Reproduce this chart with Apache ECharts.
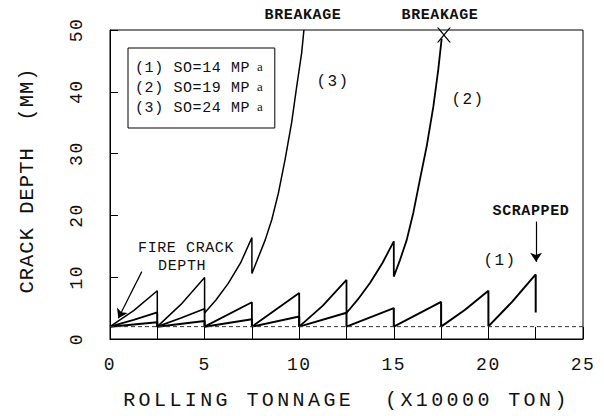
<!DOCTYPE html>
<html><head><meta charset="utf-8">
<script src="https://cdn.jsdelivr.net/npm/echarts@6/dist/echarts.min.js"></script>
<style>
html,body{margin:0;padding:0;background:#fff}
#c{width:604px;height:416px}
text[style*="20px"]{letter-spacing:3.4px}
text[style*="20.5px"]{letter-spacing:1px}
text[style*="18px"]{letter-spacing:1.5px}
text[style*="15px"]{letter-spacing:0.6px}
text[style*="16px"]{letter-spacing:1.4px}
</style></head><body><div id="c"></div><script>
// ---- data ----
const xName = 'ROLLING TONNAGE  (X10000 TON)';
const yName = 'CRACK DEPTH  (MM)';
const seriesNames = ['(1) SO=14 MPa', '(2) SO=19 MPa', '(3) SO=24 MPa'];
const xTickLabels = [0, 5, 10, 15, 20, 25];
const yTickLabels = [0, 10, 20, 30, 40, 50];
// curve (1) SO=14 MPa
const curve1 = [[0,2],[2.5,2.7],[2.5,2],[5,2.9],[5,2],[7.5,3.2],[7.5,2],[10,3.65],[10,2],
  [12.5,4.25],[12.5,2],[15,5.0],[15,2],[17.5,6.0],[17.5,2],[18.75,4.7],[20,7.8],[20,2.05],
  [21.25,6.0],[22.5,10.45],[22.5,4.3]];
// curve (2) SO=19 MPa
const curve2 = [[0,2],[1.25,3.1],[2.5,4.3],[2.5,2],[3.75,3.4],[5,4.9],[5,2],[7.5,5.95],[7.5,2],
  [10,7.45],[10,2],[11.25,5.4],[12.5,9.55],[12.5,4.2],[13.1,6.4],[13.75,9.1],[14.4,12.3],[15,15.8],
  [15,10.1],[15.33,12.8],[15.68,16.0],[16.03,20.4],[16.38,25.8],[16.74,31.2],[17.09,37.6],
  [17.35,43.6],[17.53,48.6]];
// curve (3) SO=24 MPa
const curve3 = [[0,2],[1.25,4.6],[2.5,7.8],[2.5,2],[3.75,5.6],[5,9.95],[5,4.2],[5.6,6.3],
  [6.25,9.0],[6.9,12.3],[7.5,16.4],[7.5,10.6],[7.85,13.3],[8.2,16.0],[8.55,19.3],[8.9,23.6],
  [9.25,29.0],[9.6,35.0],[9.87,40.9],[10.13,46.3],[10.25,50]];
// fire crack depth (dashed reference)
const fireCrackDepth = [[0,2],[25,2]];
// breakage point of curve (2)
const breakagePoint = [17.65, 49.2];

const FONT = "'Liberation Mono', monospace";
const chart = echarts.init(document.getElementById('c'), null, {renderer: 'svg'});

const note = (name, coord, size, bold, offset) => ({
  name, coord, symbol: 'circle', symbolSize: 0,
  label: {show: true, position: 'inside', formatter: name, color: '#111',
    fontFamily: FONT, fontSize: size, fontWeight: bold ? 'bold' : 'normal', offset: offset || [0,0]}
});

const lineSeries = (name, data, width) => ({
  name, type: 'line', data, symbol: 'none', smooth: false, clip: true,
  lineStyle: {color: '#000', width}, itemStyle: {color: '#000'},
  emphasis: {disabled: true}
});

chart.setOption({
  animation: false,
  backgroundColor: '#fff',
  grid: {left: 110, right: 21, top: 30, bottom: 77, show: true, borderColor: '#000', borderWidth: 1},
  legend: {
    data: seriesNames, orient: 'vertical', left: 128, top: 48,
    icon: 'none', itemWidth: 0, itemHeight: 14, itemGap: 4,
    padding: [12, 12, 12, 2], borderColor: '#000', borderWidth: 1,
    selectedMode: false,
    formatter: n => '{t|' + n.slice(0, -1) + '}{u|' + n.slice(-1) + '}',
    textStyle: {color: '#111', rich: {
      t: {fontFamily: FONT, fontSize: 15, lineHeight: 16, color: '#111'},
      u: {fontFamily: "'Liberation Serif', serif", fontSize: 13, lineHeight: 16, color: '#111',
          padding: [0, 0, 3, 14]}
    }}
  },
  xAxis: {
    type: 'value', min: 0, max: 25, interval: 2.5,
    name: xName, nameLocation: 'middle', nameGap: 51,
    nameTextStyle: {fontFamily: FONT, fontSize: 20, color: '#111'},
    axisLine: {lineStyle: {color: '#000', width: 1}},
    axisTick: {inside: true, length: 12, lineStyle: {color: '#000'}},
    axisLabel: {margin: 17, fontFamily: FONT, fontSize: 18, color: '#111',
      formatter: v => xTickLabels.indexOf(v) >= 0 ? String(v) : ''},
    splitLine: {show: false}
  },
  yAxis: {
    type: 'value', min: 0, max: 50, interval: 10,
    name: yName, nameLocation: 'middle', nameGap: 72,
    nameTextStyle: {fontFamily: FONT, fontSize: 20.5, color: '#111', padding: [0, 0, 0, 8]},
    axisLine: {lineStyle: {color: '#000', width: 1}},
    axisTick: {inside: true, length: 8, lineStyle: {color: '#000'}},
    axisLabel: {show: false},
    splitLine: {show: false}
  },
  series: [
    lineSeries(seriesNames[0], curve1, 2),
    lineSeries(seriesNames[1], curve2, 1.8),
    lineSeries(seriesNames[2], curve3, 1.5),
    {
      name: 'fire crack depth', type: 'line', data: fireCrackDepth, symbol: 'none',
      lineStyle: {color: '#333', width: 1, type: [4, 3]}, emphasis: {disabled: true},
      markPoint: {
        silent: true,
        data: [
          note('BREAKAGE', [10.2, 50], 15, true, [0, -15]),
          note('BREAKAGE', [17.44, 50], 15, true, [0, -15]),
          note('(3)', [11.79, 41.65], 16, false),
          note('(2)', [18.92, 38.7], 16, false),
          note('(1)', [20.61, 12.6], 16, false),
          note('SCRAPPED', [22.25, 20.6], 15, true),
          note('FIRE CRACK', [4.02, 14.6], 15, false),
          note('DEPTH', [3.81, 11.7], 15, false),
          {name: 'x', coord: breakagePoint, symbol: 'path://M0,0 L2.2,0 L10,8.6 L17.8,0 L20,0 L11.1,10 L20,20 L17.8,20 L10,11.4 L2.2,20 L0,20 L8.9,10 Z',
            symbolSize: [14, 15], itemStyle: {color: '#000'}, label: {show: false}}
        ]
      },
      markLine: {
        silent: true, symbol: ['none', 'arrow'], symbolSize: 9,
        label: {show: false},
        lineStyle: {color: '#000', width: 1.2, type: 'solid'},
        data: [
          [{coord: [1.68, 10.9]}, {coord: [0.44, 3.35]}],
          [{coord: [22.52, 19.0]}, {coord: [22.52, 12.5]}]
        ]
      }
    }
  ]
});

// y tick labels, rotated to read bottom-to-top, placed through the axis scale
const yLabelGraphics = yTickLabels.map(v => {
  const p = chart.convertToPixel({xAxisIndex: 0, yAxisIndex: 0}, [0, v]);
  return {
    type: 'text', x: p[0] - 33, y: p[1], rotation: Math.PI / 2, silent: true,
    style: {text: String(v), fontFamily: FONT, fontSize: 18, fill: '#111',
      align: 'center', verticalAlign: 'middle'}
  };
});
chart.setOption({graphic: yLabelGraphics});
</script></body></html>
